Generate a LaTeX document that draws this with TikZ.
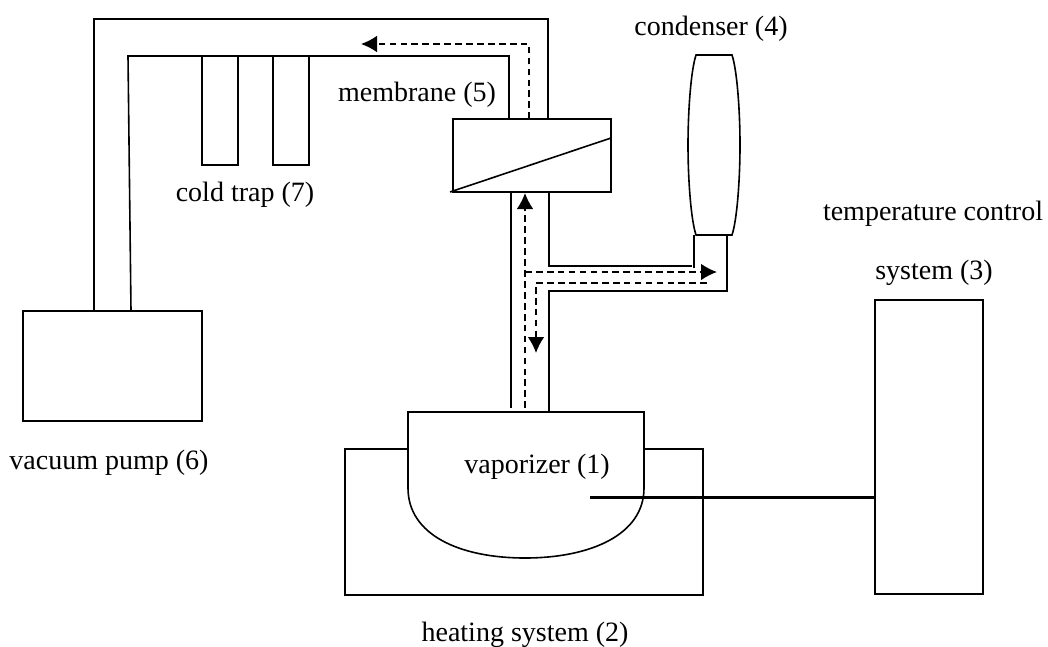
\documentclass[tikz,border=0pt]{standalone}
\usepackage{fontspec}
\setmainfont{Liberation Serif}
\usetikzlibrary{positioning}
\usetikzlibrary{calc}
\usetikzlibrary{arrows.meta}
\tikzset{
    box/.style={draw, rectangle, inner sep=0pt, outer sep=0pt, line width=1.2pt},
    pipe/.style={draw, line width=1.2pt},
    flow/.style={draw, line width=1.2pt, dash pattern=on 5pt off 3.2pt, ->},
    tag/.style={inner sep=0pt, font=\fontsize{21}{24}\selectfont}
}
\begin{document}
\begin{tikzpicture}[x=0.75pt, y=-0.75pt, >={Latex[length=12pt,width=12.5pt]}]
    \useasboundingbox (0,0) rectangle (1048,646);
    % boxes
    \node[box, minimum width=134.25pt, minimum height=82.5pt] (pump) at (112.5,366) {};
    \node[box, minimum width=118.5pt, minimum height=54.75pt] (membrane) at (532,155.5) {};
    \node[box, minimum width=81pt, minimum height=220.5pt] (control) at (929,447) {};
    \node[box, minimum width=268.5pt, minimum height=109.5pt] (heating) at (524,522) {};
    \foreach \t/\x in {1/220,2/291} {
        \node[box, minimum width=27pt, minimum height=81.75pt] (trap\t) at (\x,110.5) {};
    }
    % vaporizer vessel
    \draw[pipe, fill=white] (408,412) -- (644,412) -- (644,488)
        .. controls (644,535) and (590,558) .. (525,558)
        .. controls (460,558) and (408,535) .. (408,488) -- cycle;
    \coordinate (vap) at (525,412);
    % condenser
    \draw[pipe] (696,55) -- (732,55) .. controls (737,70) and (740,110) .. (740,145)
        .. controls (740,180) and (737,220) .. (732,235) -- (696,235)
        .. controls (691,220) and (688,180) .. (688,145)
        .. controls (688,110) and (691,70) .. (696,55) -- cycle;
    \coordinate (cond) at (696,235);
    % pipes
    \draw[pipe] (pump.north -| 94,0) -- (94,19) -- (548,19) -- (membrane.north -| 548,0);
    \draw[pipe] (pump.north -| 131,0) -- (128,56) -- (509,56) -- (membrane.north -| 509,0);
    \draw[pipe] (450,192) -- (membrane.north east |- 0,138);
    \draw[pipe] (membrane.south -| 511,0) -- (511,408);
    \draw[pipe] (membrane.south -| 549,0) -- (549,266) -- (692,266);
    \draw[pipe] (vap -| 549,0) -- (549,291) -- (727,291) -- (727,235);
    \draw[pipe] (cond -| 694,0) -- (694,268);
    \draw[line width=1.6pt] (590,497.5) -- (control.west |- 0,497.5);
    % flows
    \draw[flow] (membrane.north -| 529,0) -- (529,44) -- (361,44);
    \draw[flow] (525,408) -- (525,193);
    \draw[flow] (525,272) -- (717,272);
    \draw[flow] (707,283) -- (536,283) -- (536,353);
    % labels
    \node[tag] (l1) at (537,467) {vaporizer (1)};
    \node[tag] (l2) at (525,635) {heating system (2)};
    \node[tag] (l3a) at (933,214) {temperature control};
    \node[tag] (l3b) at (934,273) {system (3)};
    \node[tag] (l4) at (711,29) {condenser (4)};
    \node[tag] (l5) at (417,95) {membrane (5)};
    \node[tag] (l6) at (109,463) {vacuum pump (6)};
    \node[tag] (l7) at (245,195) {cold trap (7)};
\end{tikzpicture}
\end{document}
